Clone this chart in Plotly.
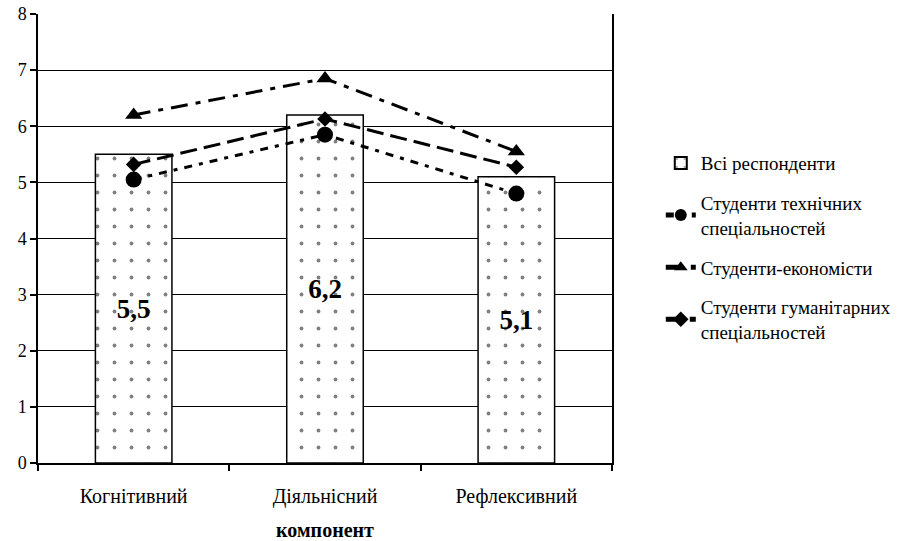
import plotly.graph_objects as go

# Components on the x axis
components = ["Когнітивний", "Діяльнісний", "Рефлексивний"]

# Mean scores per group
all_respondents = [5.5, 6.2, 5.1]
technical_students = [5.05, 5.85, 4.8]
economics_students = [6.2, 6.85, 5.55]
humanities_students = [5.32, 6.13, 5.27]

y_ticks = [0, 1, 2, 3, 4, 5, 6, 7, 8]

serif = "Liberation Serif"

fig = go.Figure()

fig.add_trace(go.Bar(
    x=components,
    y=all_respondents,
    name="Всі респонденти",
    legendgroup="a",
    width=0.4,
    marker=dict(
        color="white",
        line=dict(color="black", width=1.5),
        pattern=dict(shape=".", fgcolor="black", bgcolor="white", size=17, solidity=0.04),
    ),
    texttemplate="<b>%{y:.1f}</b>",
    textposition="inside",
    insidetextanchor="middle",
    textfont=dict(family=serif, size=27, color="black"),
))

fig.add_trace(go.Scatter(
    x=components,
    y=technical_students,
    name="Студенти технічних<br>спеціальностей",
    legendgroup="b",
    mode="lines+markers",
    line=dict(color="black", width=3, dash="8px,7px,4px,7px"),
    marker=dict(symbol="circle", size=16, color="black"),
))

fig.add_trace(go.Scatter(
    x=components,
    y=economics_students,
    name="Студенти-економісти",
    legendgroup="c",
    mode="lines+markers",
    line=dict(color="black", width=3, dash="17px,8px,5px,8px"),
    marker=dict(symbol="triangle-up", size=15, color="black"),
))

fig.add_trace(go.Scatter(
    x=components,
    y=humanities_students,
    name="Студенти гуманітарних<br>спеціальностей",
    legendgroup="d",
    mode="lines+markers",
    line=dict(color="black", width=3, dash="17px,7px"),
    marker=dict(symbol="diamond", size=12, color="black"),
))

fig.update_layout(
    width=918,
    height=541,
    margin=dict(l=38, r=306, t=14, b=78, autoexpand=False),
    paper_bgcolor="white",
    plot_bgcolor="white",
    separators=", ",
    font=dict(family=serif, size=18, color="black"),
    showlegend=True,
    legend=dict(
        x=1.085,
        xanchor="left",
        y=0.71,
        yanchor="top",
        font=dict(family=serif, size=19, color="black"),
        bgcolor="rgba(0,0,0,0)",
        tracegroupgap=12,
        itemsizing="constant",
    ),
)

fig.update_xaxes(
    automargin=False,
    showline=True,
    linecolor="black",
    linewidth=1.5,
    ticks="outside",
    tickson="boundaries",
    ticklen=6,
    tickcolor="black",
    tickwidth=1.5,
    ticklabelstandoff=14,
    tickfont=dict(family=serif, size=20),
    title=dict(text="<b>компонент</b>", font=dict(family=serif, size=20), standoff=24),
    showgrid=False,
)

fig.update_yaxes(
    automargin=False,
    range=[0, 8],
    tickvals=y_ticks,
    showline=True,
    mirror=True,
    linecolor="black",
    linewidth=1.5,
    ticks="outside",
    ticklen=6,
    tickcolor="black",
    tickwidth=1.5,
    tickfont=dict(family=serif, size=18),
    showgrid=True,
    gridcolor="black",
    gridwidth=1.3,
    zeroline=False,
)

fig.write_html("out.html")
